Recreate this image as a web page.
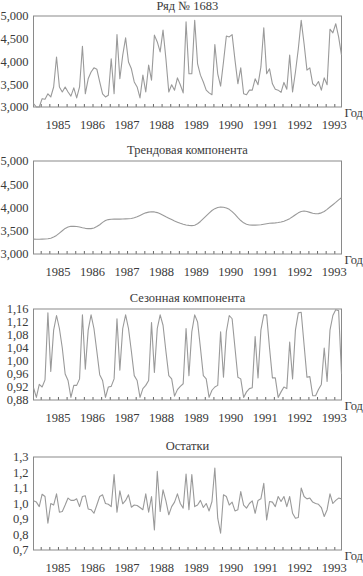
<!DOCTYPE html>
<html>
<head>
<meta charset="utf-8">
<script src="https://cdn.jsdelivr.net/npm/d3@7"></script>
<style>
	html, body { margin: 0; padding: 0; background: #fff; }
	svg { display: block; }
</style>
</head>
<body>
<div id="chart"></div>
<script>
// monthly series, April 1984 .. March 1993
const startYear = 1984;
const startMonth = 4;

const yearLabels = [1985, 1986, 1987, 1988, 1989, 1990, 1991, 1992, 1993];

const rawSeries = [
	3073, 3000, 3000, 3183, 3170, 3290, 3220, 3440, 4100, 3440, 3330, 3440,
	3330, 3240, 3420, 3200, 3440, 4334, 3290, 3620, 3770, 3860, 3830, 3550,
	3290, 3220, 3260, 4060, 3290, 4590, 3620, 4140, 4520, 3990, 3840, 3550,
	3440, 3200, 3700, 3330, 3920, 3590, 4580, 4430, 4210, 4690, 4060, 3330,
	3490, 3370, 3640, 3490, 3310, 4870, 3730, 3730, 4905, 3950, 3700, 3550,
	3370, 3310, 3270, 4370, 3730, 3460, 3990, 4560, 4540, 4590, 4030, 3510,
	3860, 3290, 3270, 3370, 3370, 3620, 3490, 3880, 4740, 3730, 3840, 3510,
	3390, 3370, 3320, 3540, 3390, 4140, 3330, 3770, 4280, 4905, 4390, 3810,
	3860, 3510, 3460, 3560, 3370, 3640, 3490, 4710, 4630, 4830, 4540, 4140
];

const trendSeries = [
	3320, 3318, 3318, 3320, 3322, 3328, 3340, 3365, 3400, 3450, 3500, 3550,
	3580, 3595, 3598, 3592, 3580, 3565, 3552, 3545, 3545, 3560, 3590, 3630,
	3680, 3720, 3740, 3748, 3750, 3750, 3750, 3752, 3755, 3758, 3765, 3780,
	3800, 3830, 3860, 3885, 3900, 3908, 3905, 3890, 3865, 3835, 3800, 3770,
	3740, 3710, 3685, 3660, 3640, 3625, 3615, 3610, 3620, 3650, 3700, 3760,
	3820, 3880, 3935, 3975, 4000, 4010, 4005, 3990, 3960, 3910, 3850, 3780,
	3720, 3670, 3640, 3625, 3620, 3620, 3625, 3630, 3640, 3650, 3660, 3665,
	3670, 3678, 3690, 3705, 3730, 3760, 3800, 3845, 3885, 3915, 3925, 3915,
	3895, 3875, 3865, 3868, 3885, 3915, 3960, 4010, 4060, 4110, 4165, 4210
];

const seasonalSeries = [
	0.918, 0.888, 0.928, 0.920, 0.942, 1.148, 0.968, 1.095, 1.140, 1.100, 1.040, 0.960,
	0.940, 0.888, 0.925, 0.925, 0.945, 1.142, 0.975, 1.095, 1.142, 1.100, 1.030, 0.958,
	0.940, 0.888, 0.920, 0.922, 0.945, 1.130, 0.972, 1.100, 1.142, 1.100, 1.030, 0.955,
	0.940, 0.888, 0.915, 0.925, 0.940, 1.118, 0.965, 1.100, 1.142, 1.110, 1.030, 0.955,
	0.945, 0.892, 0.912, 0.922, 0.930, 1.100, 0.955, 1.090, 1.142, 1.120, 1.040, 0.955,
	0.945, 0.888, 0.910, 0.920, 0.925, 1.090, 0.950, 1.090, 1.140, 1.130, 1.040, 0.950,
	0.945, 0.888, 0.905, 0.915, 0.918, 1.075, 0.948, 1.095, 1.142, 1.142, 1.040, 0.948,
	0.948, 0.888, 0.905, 0.920, 0.915, 1.058, 0.945, 1.095, 1.148, 1.150, 1.050, 0.950,
	0.952, 0.893, 0.893, 0.912, 0.928, 1.040, 0.937, 1.095, 1.140, 1.158, 1.155, 0.960
];

const residualSeries = [
	1.017, 1.009, 0.980, 1.060, 1.045, 0.873, 1.000, 0.990, 1.062, 0.944, 0.948, 0.990,
	1.035, 1.020, 1.020, 1.030, 0.980, 1.045, 1.050, 0.965, 0.960, 0.937, 0.990, 1.045,
	1.056, 1.000, 0.995, 0.980, 1.186, 0.944, 1.082, 0.998, 1.020, 1.056, 0.976, 0.990,
	0.987, 0.974, 0.960, 1.062, 0.944, 1.045, 0.830, 1.207, 0.948, 1.088, 1.017, 0.927,
	0.980, 1.009, 1.062, 1.000, 0.970, 1.190, 0.960, 1.186, 0.980, 0.990, 1.020, 0.974,
	1.000, 0.952, 1.013, 1.229, 0.905, 0.808, 1.056, 1.045, 0.990, 1.009, 0.952, 0.960,
	1.077, 0.990, 0.970, 1.000, 1.017, 0.937, 1.020, 1.030, 1.130, 0.894, 1.013, 1.009,
	0.980, 1.045, 1.013, 1.045, 0.980, 1.045, 0.937, 0.905, 0.910, 1.100, 1.045, 1.030,
	1.035, 1.009, 1.000, 0.995, 0.974, 0.916, 0.960, 1.062, 1.000, 1.020, 1.035, 1.030
];

const rawTicks = [3000, 3500, 4000, 4500, 5000];
const trendTicks = [3000, 3500, 4000, 4500, 5000];
const seasonalTicks = [0.88, 0.92, 0.96, 1.00, 1.04, 1.08, 1.12, 1.16];
const residualTicks = [0.7, 0.8, 0.9, 1.0, 1.1, 1.2, 1.3];

const width = 363;
const height = 576;
const margin = { left: 33.5, right: 21.5 };
const fontFamily = 'Liberation Serif';
const fontSize = 12.5;
const textColor = '#3a3a3a';
const lineColor = '#9a9a9a';
const frameColor = '#8a8a8a';

const svg = d3
	.select('#chart')
	.append('svg')
	.attr('width', width)
	.attr('height', height);

svg.append('rect').attr('width', width).attr('height', height).attr('fill', '#fff');

// mid-month position of each point, in decimal years
const firstT = startYear + (startMonth - 1 + 0.5) / 12;
const timeOf = (i) => firstT + i / 12;

const xScale = d3
	.scaleLinear()
	.domain([firstT, timeOf(rawSeries.length - 1)])
	.range([margin.left, width - margin.right]);

const thousands = d3.format(',');
const commaDecimal = (digits) => (v) => d3.format(`.${digits}f`)(v).replace('.', ',');

const addText = (sel) =>
	sel.attr('font-family', fontFamily).attr('font-size', fontSize).attr('fill', textColor);

const drawPanel = (title, series, ticks, fmt, top, bottom) => {
	const g = svg.append('g');

	const yScale = d3
		.scaleLinear()
		.domain([ticks[0], ticks[ticks.length - 1]])
		.range([bottom, top]);

	g.append('text')
		.attr('x', (margin.left + width - margin.right) / 2)
		.attr('y', Math.max(top - 7, 10))
		.attr('text-anchor', 'middle')
		.call(addText)
		.text(title);

	// y labels
	g.selectAll('.ylab')
		.data(ticks)
		.enter()
		.append('text')
		.attr('x', margin.left - 5)
		.attr('y', (d) => yScale(d))
		.attr('dy', '0.35em')
		.attr('text-anchor', 'end')
		.call(addText)
		.text(fmt);

	// quarterly ticks inside the frame
	const xAxis = d3
		.axisTop(xScale)
		.tickValues(d3.range(1984.5, 1993.01, 0.25))
		.tickSize(3)
		.tickFormat('');

	g.append('g')
		.attr('transform', `translate(0,${bottom})`)
		.call(xAxis)
		.call((a) => a.select('.domain').remove())
		.call((a) => a.selectAll('line').attr('stroke', '#666'));

	g.append('rect')
		.attr('x', margin.left)
		.attr('y', top)
		.attr('width', width - margin.left - margin.right)
		.attr('height', bottom - top)
		.attr('fill', 'none')
		.attr('stroke', frameColor)
		.attr('stroke-width', 1);

	const line = d3
		.line()
		.x((d, i) => xScale(timeOf(i)))
		.y((d) => yScale(d));

	g.append('path')
		.datum(series)
		.attr('fill', 'none')
		.attr('stroke', lineColor)
		.attr('stroke-width', 1.1)
		.attr('stroke-linejoin', 'round')
		.attr('d', line);

	g.selectAll('.xlab')
		.data(yearLabels)
		.enter()
		.append('text')
		.attr('x', (d) => xScale(d))
		.attr('y', bottom + 22)
		.attr('text-anchor', 'middle')
		.call(addText)
		.text((d) => d);

	g.append('text')
		.attr('x', width - margin.right + 3)
		.attr('y', bottom + 10)
		.call(addText)
		.text('Год');
};

drawPanel('Ряд № 1683', rawSeries, rawTicks, thousands, 16, 107);
drawPanel('Трендовая компонента', trendSeries, trendTicks, thousands, 161, 254);
drawPanel('Сезонная компонента', seasonalSeries, seasonalTicks, commaDecimal(2), 309, 400);
drawPanel('Остатки', residualSeries, residualTicks, commaDecimal(1), 457, 550);
</script>
</body>
</html>
